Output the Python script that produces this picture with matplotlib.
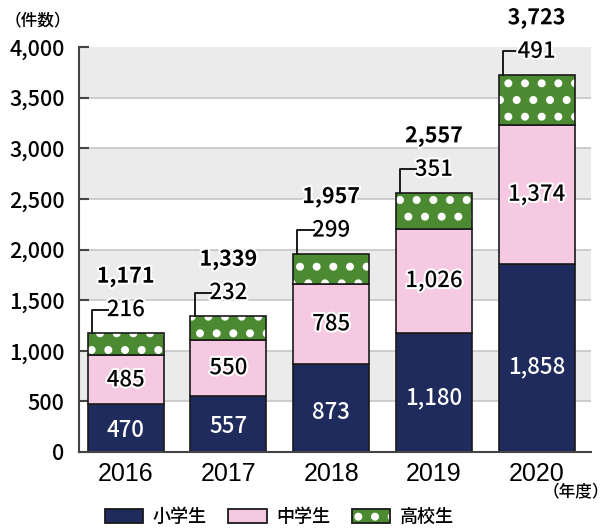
import matplotlib
matplotlib.use('Agg')
import matplotlib.pyplot as plt
import matplotlib.patheffects as pe
from matplotlib.patches import Patch
from matplotlib.legend_handler import HandlerTuple
import numpy as np

# 年度別の件数
years = ['2016', '2017', '2018', '2019', '2020']
elem = [470, 557, 873, 1180, 1858]      # 小学生
middle = [485, 550, 785, 1026, 1374]    # 中学生
high = [216, 232, 299, 351, 491]        # 高校生
totals = [1171, 1339, 1957, 2557, 3723]
series_names = ['小学生', '中学生', '高校生']

plt.rcParams['font.family'] = ['Noto Sans CJK JP', 'DejaVu Sans']
plt.rcParams['hatch.linewidth'] = 3.3

navy = '#1e2b5c'
pink = '#f5c9e1'
green = '#4b8a30'
edge = '#1a1a1a'
halo = [pe.withStroke(linewidth=3, foreground='white')]

fig = plt.figure(figsize=(6.11, 5.28), dpi=100)
ax = fig.add_axes([78.5/611, 1-452/528, (591-78.5)/611, (452-47)/528])

# 背景の縞と目盛り線
for i in range(8):
    ax.axhspan(i*500, (i+1)*500, color='#ebebeb' if i % 2 else 'white', zorder=0, lw=0)
for v in range(500, 4000, 500):
    ax.axhline(v, color='#c6c6c6', lw=1.2, zorder=0.5)

x = np.arange(len(years))
w = 0.74
elem_a = np.array(elem)
mid_top = elem_a + np.array(middle)

ax.bar(x, elem, w, color=navy, edgecolor=edge, lw=1.2, zorder=2)
ax.bar(x, middle, w, bottom=elem, color=pink, edgecolor=edge, lw=1.2, zorder=2)
ax.bar(x, high, w, bottom=mid_top, color=green, edgecolor='white', hatch='.', lw=0, zorder=2)
ax.bar(x, high, w, bottom=mid_top, fill=False, edgecolor=edge, lw=1.2, zorder=2.1)

for i in range(len(years)):
    ax.text(x[i], elem[i]*0.45, f'{elem[i]:,}', ha='center', va='center',
            color='white', fontsize=16, fontweight='medium', zorder=3)
    ax.text(x[i], elem[i] + middle[i]/2, f'{middle[i]:,}', ha='center', va='center',
            color='black', fontsize=16, fontweight='medium', zorder=3, path_effects=halo)
    top = totals[i]
    xl = x[i] - w/2 + 0.04
    ax.plot([xl, xl, x[i]-0.17], [top, top+235, top+235], color=edge, lw=1.4,
            zorder=3, clip_on=False)
    ax.text(x[i], top+235, f'{high[i]:,}', ha='center', va='center',
            fontsize=16, fontweight='medium', zorder=4, path_effects=halo, clip_on=False)
    ax.text(x[i], top+560, f'{top:,}', ha='center', va='center', fontsize=15.5,
            fontweight='bold', zorder=4, path_effects=halo, clip_on=False)

ax.set_xlim(-0.46, 4.53)
ax.set_ylim(0, 4000)
ax.set_yticks(range(0, 4001, 500))
ax.set_yticklabels([f'{v:,}' for v in range(0, 4001, 500)], fontsize=15.5, fontweight='medium')
ax.set_xticks(x)
ax.set_xticklabels(years, fontfamily='Liberation Sans', fontsize=18)
ax.tick_params(axis='y', direction='in', length=7, width=1.5, color='#444444', pad=10)
ax.tick_params(axis='x', length=0, pad=7)
for s in ['top', 'right']:
    ax.spines[s].set_visible(False)
for s in ['left', 'bottom']:
    ax.spines[s].set_color('#444444')
    ax.spines[s].set_linewidth(1.5)
    ax.spines[s].set_zorder(3)

fig.text(5/611, 1-20/528, '（件数）', ha='left', va='center', fontsize=12, fontweight='medium')
fig.text(609/611, 1-492/528, '（年度）', ha='right', va='center', fontsize=12, fontweight='medium')

handles = [
    Patch(facecolor=navy, edgecolor=edge, lw=1.3),
    Patch(facecolor=pink, edgecolor=edge, lw=1.3),
    (Patch(facecolor=green, edgecolor='white', hatch='.', lw=0),
     Patch(fill=False, edgecolor=edge, lw=1.3)),
]
fig.legend(handles, series_names, handler_map={tuple: HandlerTuple(ndivide=1)},
           loc='center', bbox_to_anchor=(279/611, 1-517/528), ncol=3, frameon=False,
           prop={'size': 13, 'weight': 'medium'}, handlelength=2.15, handleheight=0.85,
           handletextpad=0.5, columnspacing=1.2, borderpad=0, borderaxespad=0)

fig.savefig('out.png', dpi=100)
